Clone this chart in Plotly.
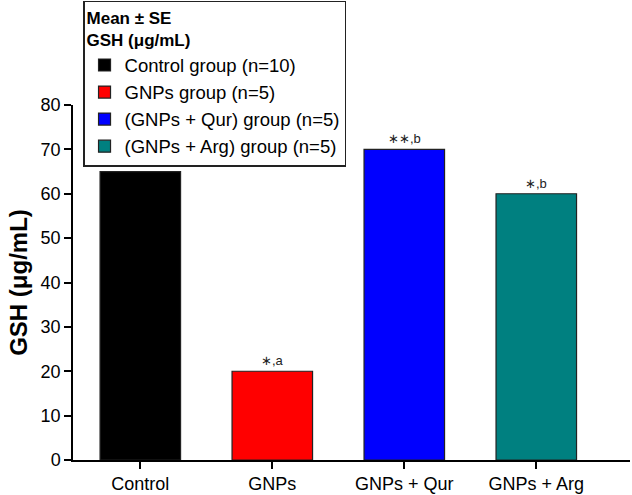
import plotly.graph_objects as go

categories = ["Control", "GNPs", "GNPs + Qur", "GNPs + Arg"]
values = [65, 20, 70, 60]
legend_names = ["Control group (n=10)", "GNPs group (n=5)",
                "(GNPs + Qur) group (n=5)", "(GNPs + Arg) group (n=5)"]
sig_labels = ["", "∗,a", "∗∗,b", "∗,b"]
colors = ["#000000", "#ff0000", "#0000ff", "#008080"]

FONT = "Liberation Sans, Arial, sans-serif"

fig = go.Figure()
for cat, val, name, col in zip(categories, values, legend_names, colors):
    fig.add_trace(go.Bar(
        x=[cat], y=[val], name=name, width=0.61,
        marker=dict(color=col, line=dict(color="#222222", width=1.2)),
    ))

for cat, val, lab in zip(categories, values, sig_labels):
    if lab:
        fig.add_annotation(x=cat, y=val, text=lab, showarrow=False,
                           yanchor="bottom", yshift=1,
                           font=dict(family=FONT, size=13, color="#222222"))

fig.update_layout(
    width=632, height=495,
    margin=dict(l=73, r=2, t=104, b=35),
    paper_bgcolor="white", plot_bgcolor="white",
    barmode="overlay",
    font=dict(family=FONT, color="#000000"),
    showlegend=True,
    legend=dict(
        title=dict(text="<b>Mean ± SE<br>GSH (μg/mL)</b>", font=dict(size=17, family=FONT)),
        font=dict(size=18.5, family=FONT),
        x=0.018, y=1.29, xanchor="left", yanchor="top",
        bordercolor="#222222", borderwidth=1.5, bgcolor="white",
        tracegroupgap=0, itemwidth=30,
    ),
    xaxis=dict(
        range=[-0.51, 3.71], showline=True, linecolor="#000000", linewidth=1.5,
        ticks="outside", ticklen=7, tickwidth=1.5, tickcolor="#000000",
        tickfont=dict(size=18, family=FONT), showgrid=False,
    ),
    yaxis=dict(
        range=[0, 80], dtick=10, showline=True, linecolor="#000000", linewidth=1.5,
        ticks="outside", ticklen=7, tickwidth=1.5, tickcolor="#000000",
        tickfont=dict(size=18, family=FONT), showgrid=False, zeroline=False,
        title=dict(text="<b>GSH (μg/mL)</b>", font=dict(size=24, family=FONT), standoff=6),
    ),
)

fig.write_html("out.html",
               config={"displayModeBar": False},
               post_script="document.body.style.margin='0';document.body.style.padding='0';document.body.style.overflow='hidden';")
